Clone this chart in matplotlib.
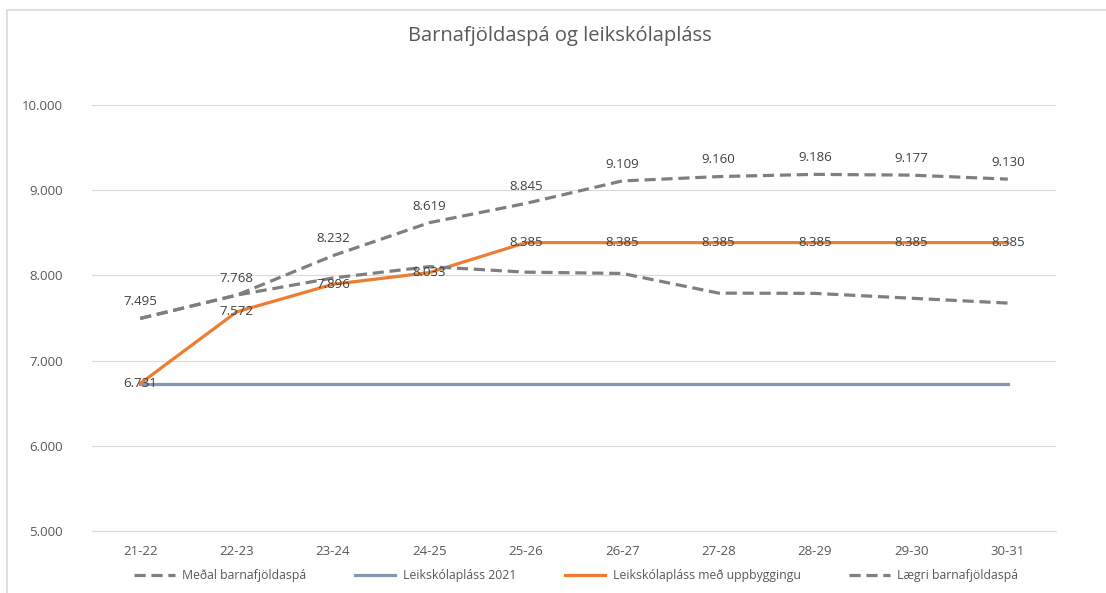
import matplotlib.pyplot as plt
from matplotlib.patches import Rectangle
from matplotlib.ticker import FuncFormatter

plt.rcParams['font.family'] = ['Open Sans', 'DejaVu Sans']

years = ['21-22', '22-23', '23-24', '24-25', '25-26', '26-27', '27-28', '28-29', '29-30', '30-31']
medal = [7495, 7768, 8232, 8619, 8845, 9109, 9160, 9186, 9177, 9130]
plass_2021 = [6731, 6731, 6731, 6731, 6731, 6731, 6731, 6731, 6731, 6731]
plass_upp = [6731, 7572, 7896, 8033, 8385, 8385, 8385, 8385, 8385, 8385]
laegri = [7495, 7768, 7970, 8103, 8038, 8023, 7792, 7789, 7732, 7675]

gray = '#7f7f7f'
blue = '#8497b0'
orange = '#ed7d31'
txt = '#404040'


def fmt(v):
    return f'{v:,.0f}'.replace(',', '.')


fig = plt.figure(figsize=(11.06, 5.93), dpi=100)
# chart-area border, runs off the right and bottom edges
fig.patches.append(Rectangle((7 / 1106, -0.05), 1.1, 1.05 - 9.5 / 593, transform=fig.transFigure,
                             fill=False, edgecolor='#d9d9d9', lw=1.2))
ax = fig.add_axes([0.0832, 0.1046, 0.8716, 0.7183])

x = list(range(len(years)))
ax.plot(x, medal, color=gray, lw=2.3, dashes=(3.5, 1.8), label='Meðal barnafjöldaspá', zorder=3)
ax.plot(x, plass_2021, color=blue, lw=2.3, label='Leikskólapláss 2021', zorder=3)
ax.plot(x, plass_upp, color=orange, lw=2.3, label='Leikskólapláss með uppbyggingu', zorder=3)
ax.plot(x, laegri, color=gray, lw=2.3, dashes=(3.5, 1.8), label='Lægri barnafjöldaspá', zorder=4)

for i, v in enumerate(medal):
    ax.annotate(fmt(v), (i, v), xytext=(0, 12), textcoords='offset points',
                ha='center', va='center', fontsize=9.5, color=txt)
for i, v in enumerate(plass_upp):
    ax.annotate(fmt(v), (i, v), ha='center', va='center', fontsize=9.5, color=txt, zorder=5)

ax.set_xlim(-0.5, len(years) - 0.5)
ax.set_ylim(5000, 10000)
ax.set_yticks([5000, 6000, 7000, 8000, 9000, 10000])
ax.yaxis.set_major_formatter(FuncFormatter(lambda v, p: fmt(v)))
ax.set_xticks(x)
ax.set_xticklabels(years)
ax.tick_params(length=0, labelsize=9.5, labelcolor='#595959', pad=10)
ax.tick_params(axis='y', pad=21)
ax.grid(axis='y', color='#d9d9d9', lw=0.8)
ax.set_axisbelow(True)
for s in ['top', 'right', 'left']:
    ax.spines[s].set_visible(False)
ax.spines['bottom'].set_color('#d9d9d9')

fig.text(0.506, 0.94, 'Barnafjöldaspá og leikskólapláss', ha='center', va='center',
         fontsize=14.5, color='#595959')

fig.legend(loc='center', bbox_to_anchor=(0.521, 0.029), ncol=4, frameon=False,
           fontsize=8.8, labelcolor='#595959', columnspacing=4.0, handlelength=3.3,
           handletextpad=0.6)

fig.savefig('out.png', dpi=100)
